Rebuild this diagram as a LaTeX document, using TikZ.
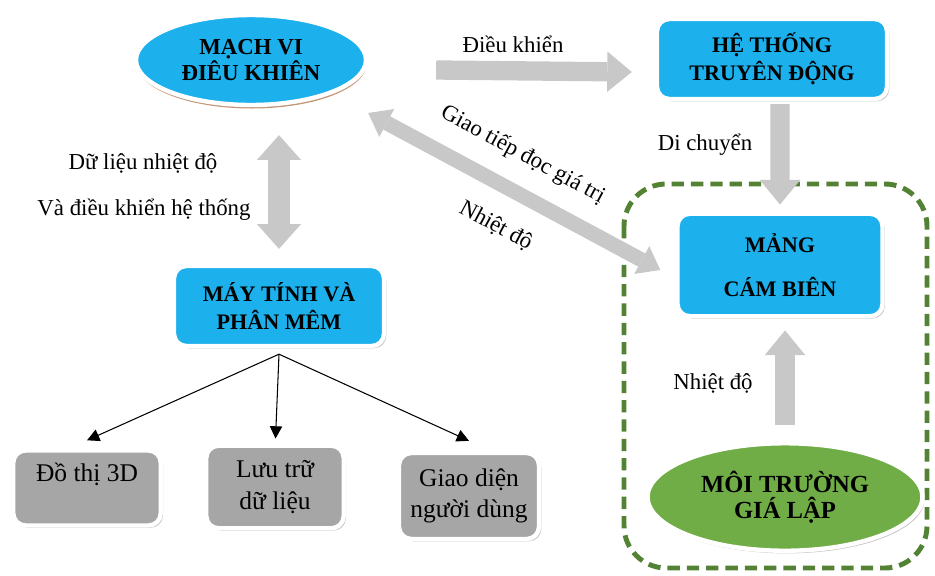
\documentclass[tikz,border=0pt]{standalone}
\usepackage{fontspec}
\setmainfont{Liberation Serif}
\usetikzlibrary{shapes.geometric,arrows.meta,shadows}

\definecolor{xanhduong}{RGB}{28,176,236}
\definecolor{xanhla}{RGB}{112,173,71}
\definecolor{vienla}{RGB}{84,130,53}
\definecolor{xamhop}{RGB}{166,166,166}
\definecolor{xammui}{RGB}{200,200,200}
\definecolor{bongnau}{RGB}{196,150,120}

\tikzset{
  bluebox/.style={rectangle, rounded corners=7pt, fill=xanhduong, draw=white, line width=2.5pt,
    drop shadow={shadow xshift=1.3pt, shadow yshift=-1.3pt, opacity=0.45, fill=gray},
    align=center, inner sep=0pt, font=\bfseries\fontsize{12.6}{16}\selectfont},
  bluedisk/.style={ellipse, fill=xanhduong, draw=white, line width=2.5pt,
    drop shadow={shadow xshift=0.4pt, shadow yshift=-2pt, opacity=1, fill=bongnau},
    align=center, inner sep=0pt, font=\bfseries\fontsize{13}{15}\selectfont},
  greendisk/.style={ellipse, fill=xanhla, draw=white, line width=2.5pt,
    drop shadow={shadow xshift=1pt, shadow yshift=-1.5pt, opacity=0.45, fill=gray},
    align=center, inner sep=0pt, font=\bfseries\fontsize{14}{15}\selectfont},
  greybox/.style={rectangle, rounded corners=7pt, fill=xamhop, draw=white, line width=2.5pt,
    drop shadow={shadow xshift=1.3pt, shadow yshift=-1.3pt, opacity=0.45, fill=gray},
    align=center, inner sep=0pt, font=\fontsize{14.5}{18}\selectfont},
  lbl/.style={font=\fontsize{13}{15}\selectfont},
  bigarrow/.style={draw=xammui, line width=11pt, -{Triangle[length=14pt,width=23pt,line width=0pt]}},
  dblarrow/.style={draw=xammui, line width=12pt,
    {Triangle[length=14pt,width=25pt,line width=0pt]}-{Triangle[length=14pt,width=25pt,line width=0pt]}},
  diagarrow/.style={draw=xammui, line width=8.5pt,
    {Triangle[length=12pt,width=18pt,line width=0pt]}-{Triangle[length=12pt,width=18pt,line width=0pt]}},
  thinarrow/.style={draw=black, line width=0.6pt, -{Triangle[length=7pt,width=7pt]}},
  zone/.style={draw=vienla, line width=2.8pt, dash pattern=on 7pt off 4pt, rounded corners=24pt},
}

\begin{document}
\begin{tikzpicture}[x=0.02cm,y=-0.02cm]
\useasboundingbox (0,0) rectangle (935,575);

% vung mo phong
\draw[zone] (624,184) rectangle (927,568);

% cac khoi chinh
\node[bluedisk, minimum width=4.6cm, minimum height=1.8cm] (mach) at (251,60) {MẠCH VI\\ĐIÊU KHIÊN};
\node[bluebox, minimum width=4.6cm, minimum height=1.6cm] (heth) at (772,59) {HỆ THỐNG\\TRUYÊN ĐỘNG};
\node[bluebox, minimum width=4.1cm, minimum height=2.05cm] (mang) at (780,265) {MẢNG\\[9pt]CÁM BIÊN};
\node[bluebox, minimum width=4.2cm, minimum height=1.6cm] (may) at (279,306) {MÁY TÍNH VÀ\\PHÂN MÊM};
\node[greendisk, minimum width=5.5cm, minimum height=2.15cm] (moi) at (785,497) {MÔI TRƯỜNG\\GIÁ LẬP};

% cac khoi xam
\node[greybox, minimum width=2.95cm, minimum height=1.5cm] (dothi) at (87,488) {Đồ thị 3D\\\mbox{}};
\node[greybox, minimum width=2.75cm, minimum height=1.65cm] (luutru) at (275,487) {Lưu trữ\\dữ liệu};
\node[greybox, minimum width=2.8cm, minimum height=1.72cm] (giaodien) at (469,496) {Giao diện\\người dùng};

% mui ten lon
\draw[bigarrow] ([xshift=1.36cm,yshift=-0.2cm]mach.east) -- ([xshift=-0.46cm,yshift=-0.26cm]heth.west);
\draw[bigarrow] ([xshift=0.16cm,yshift=-0.06cm]heth.south) -- ([yshift=0.14cm]mang.north);
\draw[bigarrow] ([yshift=0.32cm]moi.north) -- ([yshift=-0.24cm]moi.north |- mang.south);
\draw[dblarrow] ([yshift=-0.56cm]may.north |- mach.south) -- ([yshift=0.3cm]may.north);
\draw[diagarrow] ([yshift=-1.06cm]mach.east) -- ([xshift=-0.3cm,yshift=-0.1cm]mang.west)
  node[pos=0.47, sloped, above=7pt, lbl] (giaotiep) {Giao tiếp đọc giá trị}
  node[pos=0.5, sloped, below=9pt, lbl] (nhietdo1) {Nhiệt độ};

% mui ten manh
\draw[thinarrow] ([yshift=-0.12cm]may.south) -- ([yshift=0.16cm]dothi.north);
\draw[thinarrow] ([yshift=-0.12cm]may.south) -- ([xshift=0.01cm,yshift=0.1cm]luutru.north);
\draw[thinarrow] ([yshift=-0.12cm]may.south) -- ([yshift=0.2cm]giaodien.north);

% nhan
\node[lbl] (dieukhien) at (513,44) {Điều khiển};
\node[lbl] (dichuyen) at (705,145) {Di chuyển};
\node[lbl] (nhietdo2) at (713,383) {Nhiệt độ};
\node[lbl] (dulieu) at (143,163) {Dữ liệu nhiệt độ};
\node[lbl] (vadk) at (144,210) {Và điều khiển hệ thống};
\end{tikzpicture}
\end{document}
